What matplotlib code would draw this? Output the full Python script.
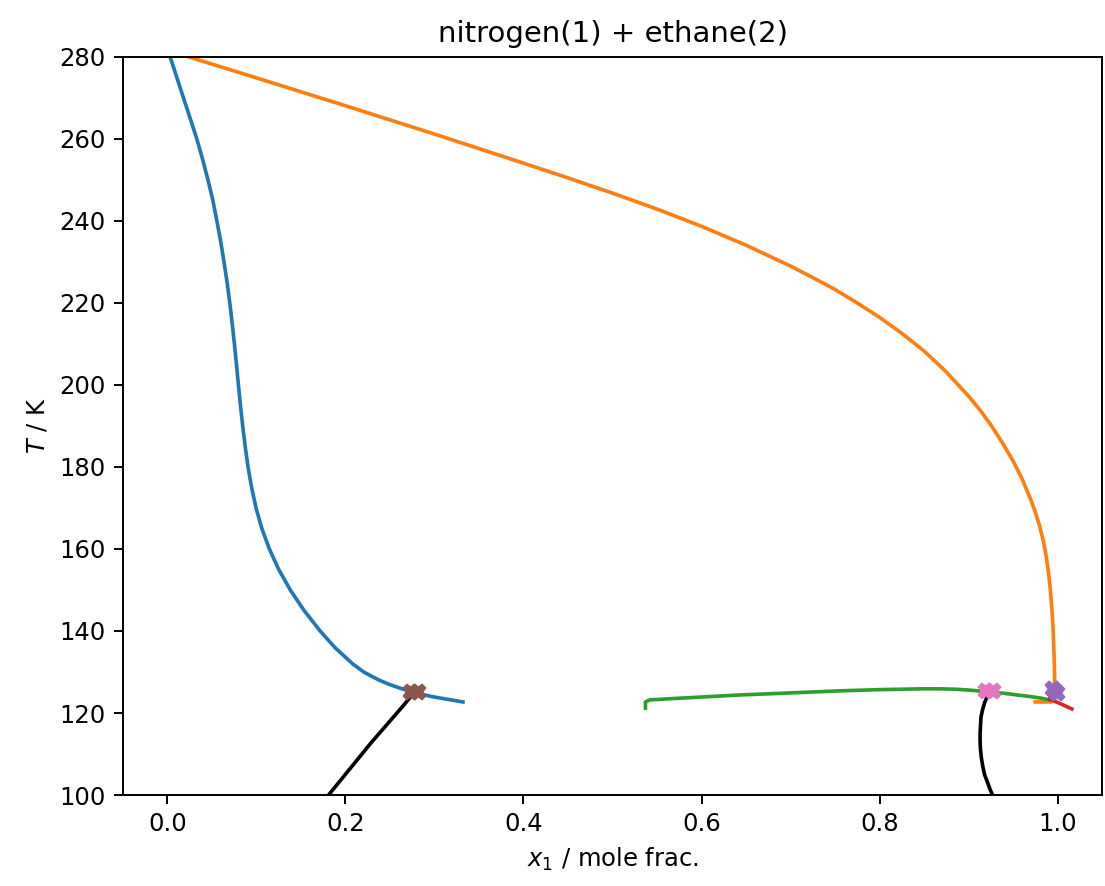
import matplotlib
matplotlib.use("Agg")
import matplotlib.pyplot as plt

# Blue branch (C0)
blue_T = [280, 275, 270, 265, 260, 255, 250, 245, 240, 235, 230, 225, 220, 215, 210, 205,
          200, 195, 190, 185, 180, 175, 170, 165, 160, 155, 150, 145, 140, 136, 132, 130,
          129, 128, 127, 126, 125, 124, 122.7]
blue_x = [0.003, 0.0105, 0.018, 0.0255, 0.033, 0.0395, 0.0455, 0.051, 0.0555, 0.0598, 0.0635,
          0.067, 0.070, 0.0727, 0.0752, 0.0775, 0.0797, 0.0820, 0.0845, 0.0873, 0.0905, 0.0945,
          0.0995, 0.106, 0.1145, 0.125, 0.138, 0.1535, 0.1715, 0.188, 0.208, 0.2205, 0.229,
          0.238, 0.249, 0.262, 0.277, 0.297, 0.332]

# Orange branch (C1)
orange_x = [0.024, 0.10, 0.20, 0.30, 0.40, 0.45, 0.50, 0.55, 0.60, 0.65, 0.70, 0.725, 0.75,
            0.775, 0.80, 0.825, 0.85, 0.875, 0.90, 0.9125, 0.925, 0.9375, 0.95, 0.96, 0.97,
            0.975, 0.98, 0.984, 0.987, 0.990, 0.992, 0.994, 0.995, 0.996, 0.9965, 0.997,
            0.997, 0.993, 0.975]
orange_T = [280, 274.9, 268.1, 261.2, 254.1, 250.5, 246.8, 242.9, 238.7, 234.1, 229.0, 226.2,
            223.3, 220.0, 216.5, 212.6, 208.3, 203.2, 197.3, 194.0, 190.3, 186.1, 181.5, 177.2,
            172.0, 169.0, 165.5, 162.0, 158.6, 154.0, 150.0, 144.5, 140.5, 135.0, 131.0, 126.0,
            123.2, 122.7, 122.7]

# Green branch (C2)
green_x = [0.537, 0.537, 0.542, 0.57, 0.60, 0.643, 0.70, 0.755, 0.80, 0.85, 0.867, 0.885,
           0.90, 0.921, 0.94, 0.955, 0.97, 0.982, 0.991]
green_T = [121.2, 122.7, 123.2, 123.55, 123.9, 124.4, 124.9, 125.4, 125.7, 125.9, 125.9, 125.8,
           125.6, 125.2, 124.8, 124.4, 124.0, 123.6, 123.2]

# Red branch (C3)
red_x = [0.991, 1.003, 1.016]
red_T = [123.4, 122.3, 121.0]

# Black three-phase lines
black1_x = [0.277, 0.265, 0.253, 0.241, 0.229, 0.217, 0.205, 0.193, 0.181]
black1_T = [125, 121.8, 118.8, 115.8, 112.8, 109.6, 106.4, 103.2, 100]
black2_T = [125, 124, 122.5, 121, 119, 117, 115, 113, 111, 109, 107, 105, 103, 101.5, 100]
black2_x = [0.924, 0.921, 0.918, 0.916, 0.914, 0.9135, 0.913, 0.913, 0.9135, 0.9145, 0.916,
            0.918, 0.9215, 0.924, 0.927]

# Special points
purple_x = [0.995, 0.999]
purple_T = [125.8, 124.9]
brown_x = [0.274, 0.281]
brown_T = [125.1, 125.1]
pink_x = [0.920, 0.927]
pink_T = [125.3, 125.3]

dpi = 175
fig = plt.figure(figsize=(1105 / dpi, 886 / dpi), dpi=dpi)
ax = fig.add_axes([0.1113, 0.1027, 0.8860, 0.8330])

ax.plot(blue_x, blue_T, color="C0")
ax.plot(orange_x, orange_T, color="C1")
ax.plot(green_x, green_T, color="C2")
ax.plot(red_x, red_T, color="C3")
ax.plot(purple_x, purple_T, "X", color="C4", markersize=6)
ax.plot(black1_x, black1_T, "k")
ax.plot(brown_x, brown_T, "X", color="C5", markersize=6)
ax.plot(black2_x, black2_T, "k")
ax.plot(pink_x, pink_T, "X", color="C6", markersize=6)

ax.set_xlim(-0.05, 1.05)
ax.set_ylim(100, 280)
ax.set_xlabel("$x_1$ / mole frac.")
ax.set_ylabel("$T$ / K")
ax.set_title("nitrogen(1) + ethane(2)")

fig.savefig("out.png", dpi=dpi)
